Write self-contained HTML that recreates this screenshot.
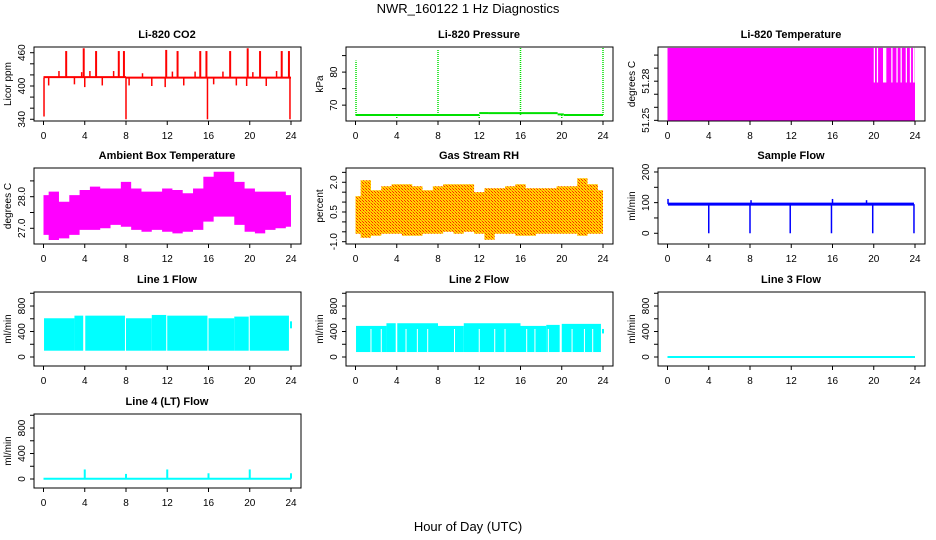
<!DOCTYPE html>
<html><head><meta charset="utf-8"><style>
body{margin:0;background:#fff;}
svg{display:block;font-family:"Liberation Sans",Arial,sans-serif;}
</style></head><body>
<svg id="chart" width="936" height="540" viewBox="0 0 936 540">
<defs>
<pattern id="rhpat" width="3" height="3" patternUnits="userSpaceOnUse">
<rect width="3" height="3" fill="#ffd800"/><rect width="1" height="1" fill="#ff2000"/><rect x="1" y="1" width="1" height="1" fill="#ff9000"/><rect x="2" y="2" width="1" height="1" fill="#ff3000"/>
</pattern>
</defs>
<text x="468" y="13" text-anchor="middle" font-size="13">NWR_160122 1 Hz Diagnostics</text>
<text x="468" y="531" text-anchor="middle" font-size="13">Hour of Day (UTC)</text>
</svg>
<script>
// ---- data ----
const xTicks=[0,4,8,12,16,20,24];
const co2Base=[416,415];
const co2UpHours=[2.2,3.9,5.1,7.3,7.8,11.9,13.0,15.2,15.8,18.1,19.8,21.0,23.1,23.8];
const co2UpVals=[463,468,463,463,463,465,463,463,463,463,468,463,463,463];
const co2SmallUpHours=[1.5,3.7,4.5,6.8,9.6,12.5,14.7,17.4,20.3,22.6];
const co2SmallUpVals=[427,425,427,427,423,426,426,426,425,427];
const co2DownHours=[0.05,8.0,15.9,23.9,0.5,3.0,4.0,5.7,8.3,10.5,11.8,13.6,16.5,18.7,19.7,21.6];
const co2DownVals=[345,340,340,340,401,403,398,401,401,400,398,401,403,401,400,400];
const presSegStart=[0,12,12.9,19.6,20.2];
const presSegEnd=[12,12.9,19.6,20.2,24];
const presSegVal=[67.0,67.6,67.6,67.2,67.0];
const presSpikeHours=[0.05,8.0,16.0,24.0,4.0,12.0,20.0];
const presSpikeVals=[83.5,86.8,87.5,87.5,66.0,66.0,66.0];
const ltFull=[51.3055];
const ltLowHours=[20.0,20.3,20.9,21.0,21.1,21.7,22.2,22.6,23.1,23.5,23.8];
const ltLowVal=[51.279];
const ambHours=[0,1,2,3,4,5,6,7,8,9,10,11,12,13,14,15,16,17,18,19,20,21,22,23,24];
const ambTop=[28.05,28.16,27.84,28.05,28.21,28.32,28.26,28.26,28.47,28.26,28.16,28.16,28.26,28.21,28.11,28.26,28.63,28.79,28.79,28.47,28.26,28.16,28.16,28.16,28.05];
const ambBot=[26.79,26.63,26.68,26.79,26.95,26.95,27.0,27.11,27.05,26.95,26.89,26.95,26.89,26.84,26.89,26.95,27.21,27.37,27.37,27.11,26.89,26.84,26.95,27.0,27.05];
const rhTop=[1.3,2.1,1.6,1.8,1.9,1.9,1.8,1.6,1.8,1.9,1.9,1.9,1.5,1.7,1.7,1.8,1.9,1.7,1.7,1.7,1.8,1.8,2.2,1.9,1.6];
const rhBot=[-0.6,-0.8,-0.7,-0.6,-0.6,-0.7,-0.7,-0.6,-0.6,-0.5,-0.6,-0.5,-0.6,-0.9,-0.6,-0.6,-0.7,-0.7,-0.6,-0.6,-0.6,-0.6,-0.7,-0.6,-0.6];
const sfBase=[95];
const sfSpikeHours=[0.05,4.0,8.0,11.9,15.9,19.9,23.9,16.0,8.1,19.3];
const sfSpikeVals=[112,0,0,0,0,0,0,112,108,108];
const l1Start=[0.05,3,4.05,8,10.5,12,16,18.5,20];
const l1End=[3,3.85,7.9,10.5,11.9,15.9,18.5,19.9,23.8];
const l1Top=[608,649,649,608,660,649,608,634,649];
const l1Bottom=[99];
const l2Start=[0.05,3,4.05,8,10.5,16,18.5,20];
const l2End=[3,3.9,8,10.5,16,18.5,19.8,23.8];
const l2Top=[488,530,530,488,530,488,504,520];
const l2Bottom=[78];
const l2GapHours=[1.5,2.5,4.9,6.0,7.0,9.6,12.0,13.5,14.5,16.6,17.4,18.7,21.0,22.2,23.0];
const l3Vals=[0,0];
const l4Base=[5];
const l4SpikeHours=[4,8,12,16,20,24];
const l4SpikeVals=[150,80,150,90,150,90];

// ---- layout ----
const NS='http://www.w3.org/2000/svg';
const svg=document.getElementById('chart');
const colX=[0,312,624];
const rowTop=[47,168,292,414];
const rowH=[74,76,74,74];
function mk(tag,attrs,parent){const e=document.createElementNS(NS,tag);for(const k in attrs)e.setAttribute(k,attrs[k]);(parent||svg).appendChild(e);return e;}
function panel(c,r,title,ylab,ymin,ymax,ticks,labels,name){
  const g=mk('g',{});
  
  
  const x0=colX[c],top=rowTop[r],h=rowH[r],bot=top+h;
  const L=x0+34,R=x0+301;
  const sx=v=>x0+43.5+v*(247.5/24);
  const sy=v=>bot-(v-ymin)/(ymax-ymin)*h;
  const t=mk('text',{x:x0+167,y:top-9,'text-anchor':'middle','font-size':11,'font-weight':'bold'},g);t.textContent=title;
  
  
  const yl=mk('text',{x:0,y:0,transform:`translate(${x0+11},${(top+bot)/2}) rotate(-90)`,'text-anchor':'middle','font-size':10},g);yl.textContent=ylab;
  
  
  ticks.forEach(v=>{const y=sy(v);mk('line',{x1:L-4,x2:L,y1:y,y2:y,stroke:'#000'},g);});
  labels.forEach(v=>{const y=sy(parseFloat(v));const s=mk('text',{x:0,y:0,transform:`translate(${x0+25},${y}) rotate(-90)`,'text-anchor':'middle','font-size':10},g);s.textContent=v;
    
    });
  xTicks.forEach(v=>{const x=sx(v);mk('line',{x1:x,x2:x,y1:bot,y2:bot+4,stroke:'#000'},g);const s=mk('text',{x:x,y:bot+18,'text-anchor':'middle','font-size':10},g);s.textContent=v;
    
    });
  const plot=mk('g',{},g);
  
  
  mk('rect',{x:L,y:top,width:R-L,height:h,fill:'none',stroke:'#000'},g);
  return {g:plot,sx,sy,L,R,top,bot};
}
function vline(p,h,v1,v2,col,w,nm){const l=mk('line',{x1:p.sx(h),x2:p.sx(h),y1:p.sy(v1),y2:p.sy(v2),stroke:col,'stroke-width':w||1.5},p.g);
  
  return l;}
function hline(p,h1,h2,v,col,w,nm){const l=mk('line',{x1:p.sx(h1),x2:p.sx(h2),y1:p.sy(v),y2:p.sy(v),stroke:col,'stroke-width':w||2},p.g);
  
  return l;}
function band(p,hours,tops,bots,fill,nm){
  let d='M'+p.sx(hours[0])+','+p.sy(tops[0]);
  for(let i=0;i<hours.length;i++){const xa=p.sx(Math.max(0,hours[i]-0.5)),xb=p.sx(Math.min(24,hours[i]+0.5));d+=` L${xa},${p.sy(tops[i])} L${xb},${p.sy(tops[i])}`;}
  for(let i=hours.length-1;i>=0;i--){const xa=p.sx(Math.max(0,hours[i]-0.5)),xb=p.sx(Math.min(24,hours[i]+0.5));d+=` L${xb},${p.sy(bots[i])} L${xa},${p.sy(bots[i])}`;}
  const e=mk('path',{d:d+'Z',fill:fill},p.g);
  
  
}

// CO2
let p=panel(0,0,'Li-820 CO2','Licor ppm',336.9,470.3,[340,360,380,400,420,440,460],['340','400','460'],'co2');
hline(p,0,8,co2Base[0],'#f00',2,'co2-baseline');hline(p,8,24,co2Base[1],'#f00',2,'co2-baseline');
co2UpHours.forEach((h,i)=>vline(p,h,co2Base[0],co2UpVals[i],'#f00',2,'co2-spike'));
co2SmallUpHours.forEach((h,i)=>vline(p,h,co2Base[0],co2SmallUpVals[i],'#f00',1.5,'co2-spike'));
co2DownHours.forEach((h,i)=>vline(p,h,co2Base[1],co2DownVals[i],'#f00',1.5,'co2-dip'));
// Pressure
p=panel(1,0,'Li-820 Pressure','kPa',65.2,87.6,[70,75,80,85],['70','80'],'pressure');
presSegStart.forEach((s,i)=>hline(p,s,presSegEnd[i],presSegVal[i],'#00e000',2,'pressure-line'));
presSpikeHours.forEach((h,i)=>{const l=vline(p,h,presSegVal[0],presSpikeVals[i],'#00e000',1.5,'pressure-spike');l.setAttribute('stroke-dasharray','1,1');});
// Li temp
p=panel(2,0,'Li-820 Temperature','degrees C',51.2495,51.3062,[51.25,51.26,51.27,51.28,51.29,51.30],['51.25','51.28'],'li-temp');
(function(){const r=mk('rect',{x:p.sx(0),y:p.sy(ltFull[0]),width:p.sx(24)-p.sx(0),height:p.sy(51.2495)-p.sy(ltFull[0]),fill:'#ff00ff'},p.g);


ltLowHours.forEach(h=>{const w=mk('rect',{x:p.sx(h),y:p.sy(ltFull[0])-1,width:p.sx(h+0.12)-p.sx(h),height:p.sy(ltLowVal[0])-p.sy(ltFull[0])+1,fill:'#fff'},p.g);

});
const e=mk('rect',{x:p.sx(23.95),y:p.sy(ltFull[0])-1,width:p.sx(24.05)-p.sx(23.95),height:p.sy(ltLowVal[0])-p.sy(ltFull[0])+1,fill:'#fff'},p.g);

})();
// Ambient
p=panel(0,1,'Ambient Box Temperature','degrees C',26.503,28.908,[27.0,27.5,28.0,28.5],['27.0','28.0'],'ambient');
band(p,ambHours,ambTop,ambBot,'#ff00ff','ambient-band');
// RH
p=panel(1,1,'Gas Stream RH','percent',-1.116,2.72,[-1,-0.5,0,0.5,1,1.5,2,2.5],['-1.0','0.5','2.0'],'rh');
band(p,ambHours,rhTop,rhBot,'url(#rhpat)','rh-band');
// Sample flow
p=panel(2,1,'Sample Flow','ml/min',-35,213,[0,50,100,150,200],['0','100','200'],'sample-flow');
hline(p,0.05,23.9,sfBase[0],'#0000ff',3,'sample-flow-line');
sfSpikeHours.forEach((h,i)=>vline(p,h,sfBase[0],sfSpikeVals[i],'#0000ff',1.5,'sample-flow-spike'));
// Line flows
function blocks(p,st,en,tp,bt,nm){st.forEach((s,i)=>{const r=mk('rect',{x:p.sx(s),y:p.sy(tp[i]),width:p.sx(en[i])-p.sx(s),height:p.sy(bt)-p.sy(tp[i]),fill:'#00ffff'},p.g);
  
  });}
const flowTicks=[0,200,400,600,800,1000], flowLabels=['0','400','800'];
p=panel(0,2,'Line 1 Flow','ml/min',-141,1020,flowTicks,flowLabels,'line1');
blocks(p,l1Start,l1End,l1Top,l1Bottom[0],'line1-block');
vline(p,24,450,560,'#00ffff',2,'line1-end');
p=panel(1,2,'Line 2 Flow','ml/min',-141,1020,flowTicks,flowLabels,'line2');
blocks(p,l2Start,l2End,l2Top,l2Bottom[0],'line2-block');
l2GapHours.forEach(h=>vline(p,h,l2Bottom[0],440,'#fff',1,'line2-gap'));
vline(p,24,370,440,'#00ffff',2,'line2-end');
p=panel(2,2,'Line 3 Flow','ml/min',-141,1020,flowTicks,flowLabels,'line3');
hline(p,0,24,l3Vals[0],'#00ffff',2,'line3-line');
p=panel(0,3,'Line 4 (LT) Flow','ml/min',-141,1020,flowTicks,flowLabels,'line4');
hline(p,0,24,l4Base[0],'#00ffff',2,'line4-line');
l4SpikeHours.forEach((h,i)=>vline(p,h,l4Base[0],l4SpikeVals[i],'#00ffff',2,'line4-spike'));
</script>
</body></html>
